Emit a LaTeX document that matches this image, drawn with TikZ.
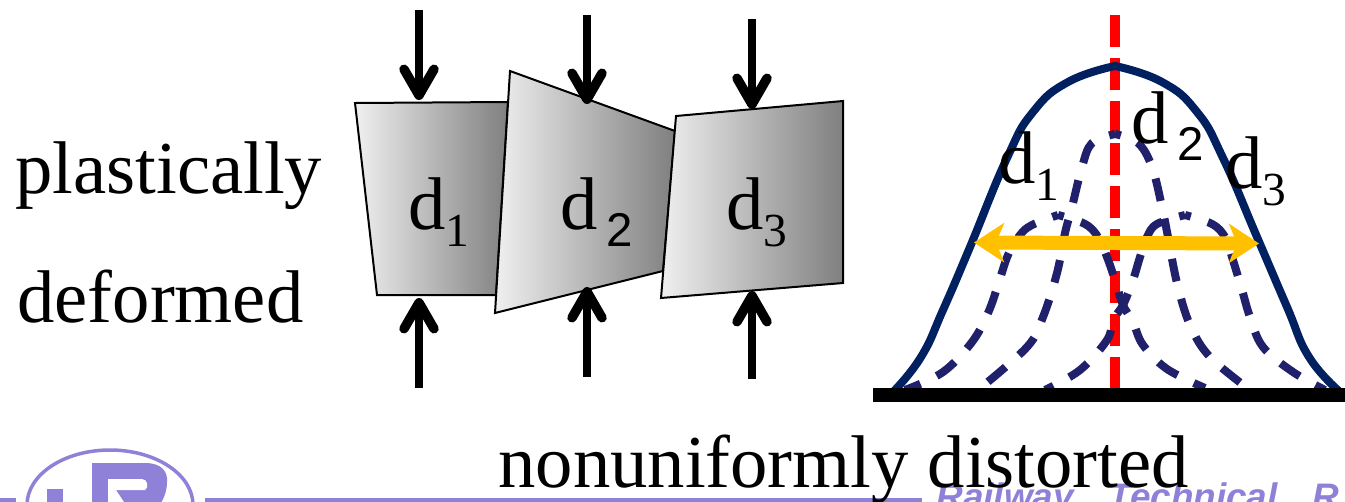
\documentclass[tikz,border=0pt]{standalone}
\usepackage{fontspec}
\setmainfont{Liberation Serif}
\newfontfamily\labelsans{Liberation Sans}
\usepackage{xcolor}
\usetikzlibrary{arrows.meta}
\definecolor{logopurple}{RGB}{143,128,216}
\definecolor{bellnavy}{RGB}{0,32,96}
\definecolor{dashnavy}{RGB}{33,32,107}
\definecolor{widthorange}{RGB}{255,192,0}
\newcommand{\dserif}[1]{d\raisebox{-10.2pt}{\fontsize{27}{27}\selectfont #1}}
\newcommand{\dsans}{d\hspace{5pt}\raisebox{-10.2pt}{\fontsize{27}{27}\selectfont\labelsans 2}}
\tikzset{
  bigtext/.style={anchor=base west, inner sep=0pt, font=\fontsize{42.5}{42.5}\selectfont},
  grain/.style={draw=black, line width=0.04cm, left color=black!6, right color=black!50},
  press/.style={line width=0.16cm, -{Straight Barb[length=0.52cm, width=0.6cm, line width=0.19cm, round]}},
  dashbell/.style={dashnavy, line width=0.16cm, dash pattern=on 0.46cm off 0.36cm, dash phase=0.34cm},
}

\begin{document}
\begin{tikzpicture}[x=0.02cm, y=-0.02cm]
  \useasboundingbox (0,0) rectangle (1345,501);
  \clip (0,0) rectangle (1345,501);

  % Logo strip
  \draw[logopurple, line width=0.1cm] (0,500) -- (16,500);
  \draw[logopurple, line width=0.1cm] (205,500) -- (922,500);
  \draw[logopurple, line width=0.07cm] (110,505) ellipse (83 and 55);
  \fill[logopurple] (47,489) rectangle (63,505);
  \fill[logopurple] (92,463) -- (145,463) .. controls (162,463) and (168,472) .. (167,482)
    .. controls (167,490) and (165,496) .. (160,505) -- (92,505) -- cycle;
  \fill[white] (108,479) -- (142,479) .. controls (148,479) and (149,488) .. (145,490)
    -- (116,490) -- (126,505) -- (108,505) -- cycle;
  \node[anchor=base west, inner sep=0pt, logopurple, font=\labelsans\bfseries\itshape\fontsize{21}{21}\selectfont]
    (railway) at (936,509) {Railway\hspace{20pt}Technical\hspace{20pt}R};

  % Text
  \node[bigtext] (plastic) at (15,193) {plastically};
  \node[bigtext] (deform) at (17,322) {deformed};
  \node[bigtext] (distort) at (498,487) {nonuniformly distorted};

  % Grains
  \path[grain] (355,103) -- (508,102) -- (496,295) -- (377,295) -- cycle;
  \path[grain] (510,71) -- (675,131) -- (663,271) -- (495,313) -- cycle;
  \path[grain] (676,116) -- (843,101) -- (843,283) -- (661,298) -- cycle;
  \node[bigtext] (grainA) at (408,229) {\dserif{1}};
  \node[bigtext] (grainB) at (560,229) {\dsans};
  \node[bigtext] (grainC) at (726,229) {\dserif{3}};

  % Loading arrows
  \foreach \n/\x/\ya/\yb/\yc/\yd in {A/419/10/100/388/298, B/587/15/104/377/287, C/752/19/109/379/291} {
    \coordinate (top\n) at (\x,\ya);
    \coordinate (toptip\n) at (\x,\yb);
    \coordinate (bot\n) at (\x,\yc);
    \coordinate (bottip\n) at (\x,\yd);
    \draw[press] (top\n) -- (toptip\n);
    \draw[press] (bot\n) -- (bottip\n);
  }

  % Centre line
  \coordinate (axistop) at (1115,15.3);
  \coordinate (axisbot) at (1115,388);
  \draw[red, line width=0.2cm, dash pattern=on 0.64cm off 0.214cm] (axistop) -- (axisbot);

  % Peak profiles
  \draw[bellnavy, line width=0.16cm] plot[smooth, tension=0.8] coordinates {(893,392) (921,357) (943,310) (970,247)
    (1007,158) (1033,112) (1068,82) (1115,66)}
    -- plot[smooth, tension=0.8] coordinates {(1115,66) (1162,82) (1197,112) (1223,158) (1257,237) (1287,307) (1309,357) (1340,392)};
  % d1
  \draw[dashbell] plot[smooth, tension=0.6] coordinates {(1058,215) (1032,225) (1020,235) (1008,255) (998,285)
    (988,313) (972,342) (943,372) (905,390)};
  \draw[dashbell] plot[smooth, tension=0.6] coordinates {(1058,215) (1085,224) (1098,237) (1107,257) (1115,280)
    (1123,305) (1133,322) (1143,345) (1167,369) (1205,388)};
  % d2
  \draw[dashbell] plot[smooth, tension=0.6] coordinates {(1115,134) (1092,143) (1082,167) (1072,207) (1065,233)
    (1057,273) (1043,317) (1027,347) (978,390)};
  \draw[dashbell] plot[smooth, tension=0.6] coordinates {(1115,134) (1138,143) (1152,167) (1162,207) (1168,237)
    (1177,283) (1190,325) (1210,357) (1250,390)};
  % d3
  \draw[dashbell] plot[smooth, tension=0.6] coordinates {(1185,215) (1157,224) (1147,237) (1140,257) (1133,280)
    (1123,305) (1113,320) (1107,340) (1080,370) (1045,390)};
  \draw[dashbell] plot[smooth, tension=0.6] coordinates {(1185,215) (1212,224) (1225,237) (1232,257) (1242,290)
    (1250,317) (1263,347) (1293,372) (1325,390)};

  % Peak labels
  \node[bigtext] (peakA) at (998,183) {\dserif{1}};
  \node[bigtext] (peakB) at (1131,143) {\dsans};
  \node[bigtext] (peakC) at (1225,188) {\dserif{3}};

  % Peak width
  \coordinate (widthL) at (974,242.5);
  \coordinate (widthR) at (1259,243.5);
  \draw[widthorange, line width=0.28cm, {Stealth[length=0.6cm, width=0.78cm, inset=0.16cm]}-{Stealth[length=0.6cm, width=0.78cm, inset=0.16cm]}] (widthL) -- (widthR);

  % Base line
  \coordinate (baseL) at (873,395);
  \coordinate (baseR) at (1345,395);
  \draw[black, line width=0.28cm] (baseL) -- (baseR);
\end{tikzpicture}
\end{document}
